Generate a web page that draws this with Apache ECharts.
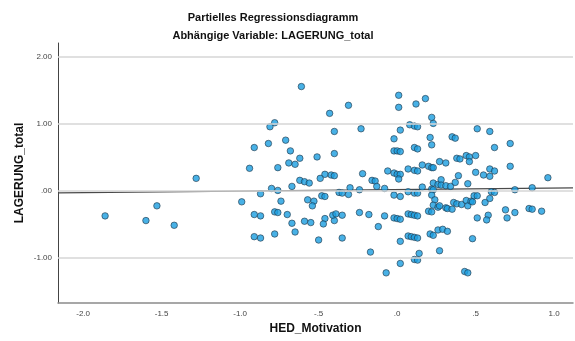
<!DOCTYPE html>
<html>
<head>
<meta charset="utf-8">
<script src="https://cdn.jsdelivr.net/npm/echarts@6/dist/echarts.min.js"></script>
<style>
  html, body { margin: 0; padding: 0; background: #fff; }
  #chart { width: 575px; height: 341px; }
</style>
</head>
<body>
<div id="chart"></div>
<script>
// partial residuals: [HED_Motivation, LAGERUNG_total]
const residualPairs = [
  [-1.86,-0.38],[-1.60,-0.45],[-1.53,-0.23],[-1.42,-0.52],[-1.28,0.18],
  [-0.61,1.55],[-0.31,1.27],[-0.43,1.15],[-0.78,1.01],[-0.81,0.95],[-0.40,0.88],[-0.23,0.92],
  [-0.71,0.75],[-0.91,0.64],[-0.82,0.70],[-0.68,0.59],[-0.51,0.50],[-0.40,0.55],[-0.62,0.48],
  [-0.69,0.41],[-0.65,0.39],[-0.94,0.33],[-0.76,0.34],[-0.22,0.25],[-0.46,0.24],[-0.49,0.18],
  [-0.42,0.23],[-0.40,0.22],[-0.62,0.15],[-0.59,0.13],[-0.56,0.11],[-0.16,0.15],[-0.14,0.14],
  [-0.67,0.06],[-0.80,0.03],[-0.76,0.00],[-0.87,-0.05],[-0.99,-0.17],[-0.74,-0.16],[-0.57,-0.14],
  [-0.53,-0.16],[-0.54,-0.23],[-0.48,-0.08],[-0.46,-0.09],[-0.37,-0.03],[-0.35,-0.04],[-0.31,-0.06],
  [-0.30,0.04],[-0.24,0.01],[-0.13,0.06],[-0.91,-0.36],[-0.87,-0.38],[-0.78,-0.32],[-0.76,-0.33],
  [-0.70,-0.36],[-0.67,-0.49],[-0.65,-0.62],[-0.59,-0.46],[-0.55,-0.48],[-0.46,-0.42],[-0.47,-0.50],
  [-0.40,-0.45],[-0.41,-0.37],[-0.39,-0.35],[-0.35,-0.37],[-0.24,-0.33],[-0.18,-0.36],[-0.12,-0.54],
  [-0.91,-0.69],[-0.87,-0.71],[-0.78,-0.65],[-0.50,-0.74],[-0.35,-0.71],[-0.17,-0.92],
  [0.01,1.42],[0.01,1.24],[0.12,1.29],[0.18,1.37],[0.22,1.09],[0.23,1.00],[0.08,0.98],[0.11,0.96],
  [0.13,0.95],[0.02,0.90],[-0.02,0.77],[0.21,0.79],[0.22,0.68],[0.35,0.80],[0.37,0.78],[0.51,0.92],
  [0.59,0.88],[0.72,0.70],[0.62,0.64],[-0.02,0.59],[0.00,0.59],[0.02,0.58],[0.11,0.64],[0.13,0.62],
  [0.38,0.48],[0.40,0.47],[0.44,0.52],[0.46,0.50],[0.50,0.52],[0.46,0.43],[0.27,0.43],[0.31,0.41],
  [0.16,0.38],[0.20,0.36],[0.22,0.34],[0.23,0.34],[-0.06,0.29],[-0.02,0.26],[0.00,0.24],[0.02,0.24],
  [0.01,0.17],[0.07,0.32],[0.11,0.30],[0.13,0.29],[0.39,0.22],[0.50,0.27],[0.55,0.23],[0.59,0.32],
  [0.62,0.29],[0.59,0.21],[0.72,0.36],[0.96,0.19],
  [0.23,0.11],[0.26,0.09],[0.28,0.16],[0.28,0.08],[0.31,0.07],[0.34,0.06],[0.37,0.12],[0.45,0.10],
  [-0.08,0.03],[0.16,0.05],[0.86,0.04],[0.75,0.01],[-0.02,-0.07],[0.02,-0.09],[0.07,-0.02],[0.11,-0.04],
  [0.13,-0.04],[0.22,0.02],[0.23,0.01],[0.22,-0.07],[0.24,-0.14],[0.23,-0.22],[0.26,-0.25],[0.27,-0.23],
  [0.31,-0.26],[0.32,-0.27],[0.35,-0.28],[0.36,-0.18],[0.38,-0.20],[0.41,-0.21],[0.44,-0.15],[0.45,-0.23],
  [0.47,-0.16],[0.48,-0.17],[0.49,-0.08],[0.51,-0.08],[0.56,-0.18],[0.59,-0.12],[0.60,-0.02],[0.62,-0.03],
  [0.69,-0.29],[0.75,-0.33],[0.84,-0.27],[0.86,-0.28],[0.92,-0.31],[0.58,-0.37],[0.57,-0.44],[0.70,-0.41],
  [0.51,-0.41],[-0.08,-0.38],[-0.02,-0.41],[0.00,-0.42],[0.02,-0.43],[0.07,-0.35],[0.09,-0.36],[0.11,-0.37],
  [0.13,-0.38],[0.20,-0.31],[0.22,-0.32],[0.21,-0.65],[0.23,-0.67],[0.26,-0.59],[0.29,-0.58],[0.32,-0.61],
  [0.07,-0.68],[0.09,-0.69],[0.11,-0.70],[0.13,-0.71],[0.02,-0.76],[0.48,-0.72],[0.14,-0.94],[0.27,-0.90],
  [0.11,-1.03],[0.13,-1.04],[0.02,-1.09],[-0.07,-1.23],[0.43,-1.21],[0.45,-1.23]
];

const xTicks = [-2, -1.5, -1, -0.5, 0, 0.5, 1];
const yTicks = [-1, 0, 1, 2];
const xRange = [-2.16, 1.12];
const yRange = [-1.68, 2.2];

// fit line of the partial regression
const fitSlope = 0.0227;
const fitIntercept = 0.012;

// SPSS style: drop leading zero (.5, -.5, .00)
function spss(v, digits) {
  return v.toFixed(digits).replace(/^(-?)0\./, "$1.");
}

const fitLine = xRange.map((x) => [x, fitIntercept + fitSlope * x]);

const chart = echarts.init(document.getElementById("chart"));
const fontFam = "'Liberation Sans', Arial, sans-serif";

const option = {
  animation: false,
  backgroundColor: "#fff",
  title: [
    {
      text: "Partielles Regressionsdiagramm",
      left: 268,
      top: 7,
      textAlign: "center",
      textStyle: { fontSize: 11, fontWeight: "bold", color: "#111", fontFamily: fontFam },
    },
    {
      text: "Abhängige Variable: LAGERUNG_total",
      left: 268,
      top: 25,
      textAlign: "center",
      textStyle: { fontSize: 11, fontWeight: "bold", color: "#111", fontFamily: fontFam },
    },
  ],
  grid: { left: 58, right: 2, top: 43, bottom: 38 },
  xAxis: {
    type: "value",
    min: xRange[0],
    max: xRange[1],
    name: "HED_Motivation",
    nameLocation: "middle",
    nameGap: 19,
    nameTextStyle: { fontSize: 12, fontWeight: "bold", color: "#111", fontFamily: fontFam },
    axisLine: { onZero: false, lineStyle: { color: "#8a8a8a", width: 1.5 } },
    axisTick: { show: false },
    splitLine: { show: false },
    axisLabel: {
      customValues: xTicks,
      fontSize: 8,
      color: "#444",
      margin: 7,
      fontFamily: fontFam,
      formatter: (v) => spss(v, 1),
    },
  },
  yAxis: {
    type: "value",
    min: yRange[0],
    max: yRange[1],
    name: "LAGERUNG_total",
    nameLocation: "middle",
    nameGap: 32,
    nameMoveOverlap: false,
    nameTextStyle: { fontSize: 12, fontWeight: "bold", color: "#111", fontFamily: fontFam },
    axisLine: { show: true, onZero: false, lineStyle: { color: "#444", width: 1 } },
    axisTick: { show: false },
    splitLine: { show: false },
    axisLabel: {
      customValues: yTicks,
      fontSize: 8,
      color: "#444",
      margin: 6,
      fontFamily: fontFam,
      formatter: (v) => spss(v, 2),
    },
  },
  series: [
    {
      // horizontal grid lines at the y ticks
      type: "line",
      data: [],
      silent: true,
      markLine: {
        silent: true,
        symbol: "none",
        label: { show: false },
        lineStyle: { color: "#d6d6d6", width: 1.5, type: "solid" },
        data: yTicks.map((v) => ({ yAxis: v })),
      },
    },
    {
      type: "line",
      data: fitLine,
      showSymbol: false,
      silent: true,
      lineStyle: { color: "#4a4a4a", width: 1.2 },
      z: 3,
    },
    {
      type: "scatter",
      data: residualPairs,
      symbolSize: 6.5,
      itemStyle: { color: "#1a9de0", borderColor: "#22384a", borderWidth: 0.8 },
      z: 4,
    },
  ],
};
chart.setOption(option);
</script>
</body>
</html>
